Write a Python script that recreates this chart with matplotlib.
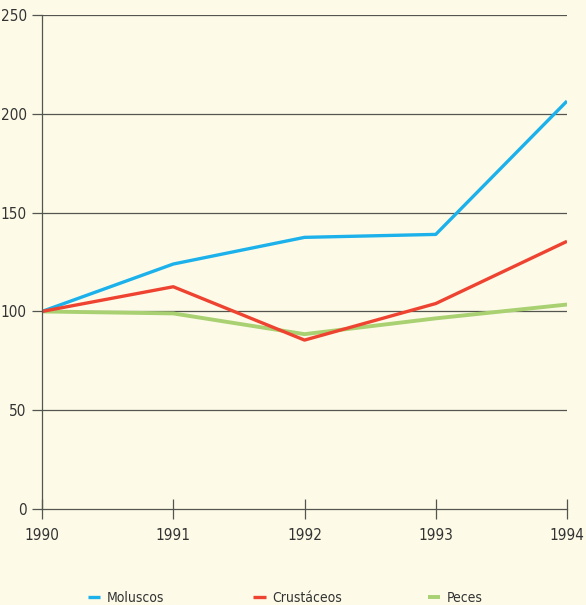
import matplotlib
matplotlib.use("Agg")
import matplotlib.pyplot as plt

years = [1990, 1991, 1992, 1993, 1994]
moluscos = [100, 124, 137.5, 139, 206.5]
crustaceos = [100, 112.5, 85.5, 104, 135.5]
peces = [100, 99, 88.5, 96.5, 103.5]
y_ticks = [0, 50, 100, 150, 200, 250]

bg = "#fdfbe8"
plt.rcParams['font.family'] = ['DejaVu Sans']
plt.rcParams['font.stretch'] = 'condensed'

fig = plt.figure(figsize=(5.86, 6.05), dpi=100, facecolor=bg)
ax = fig.add_axes([0.0717, 0.1587, 0.8959, 0.8163], facecolor=bg)

ax.plot(years, moluscos, color="#1cb1eb", lw=2.4, label="Moluscos", solid_capstyle="butt")
ax.plot(years, crustaceos, color="#ef4331", lw=2.4, label="Crustáceos", solid_capstyle="butt")
ax.plot(years, peces, color="#a9d172", lw=2.8, label="Peces", solid_capstyle="butt", zorder=1.5)

for v in y_ticks[1:]:
    ax.axhline(v, color="#555550", lw=0.9, zorder=1)

ax.set_xlim(1990, 1994)
ax.set_ylim(0, 250)
ax.set_xticks(years)
ax.set_yticks(y_ticks)
for s in ["top", "right"]:
    ax.spines[s].set_visible(False)
for s in ["left", "bottom"]:
    ax.spines[s].set_color("#555550")
    ax.spines[s].set_linewidth(0.9)
ax.tick_params(axis="x", direction="inout", length=14, width=0.9, color="#555550",
               labelsize=11, pad=7, labelcolor="#333333")
ax.tick_params(axis="y", direction="out", length=7, width=0.9, color="#555550",
               labelsize=11, pad=4, labelcolor="#333333")

# legend entries placed one by one under the plot
handles, labels = ax.get_legend_handles_labels()
for h, l, xc in zip(handles, labels, [0.150, 0.432, 0.730]):
    fig.legend([h], [l], loc="center left", bbox_to_anchor=(xc, 0.011), frameon=False,
               handlelength=0.9, handletextpad=0.45, fontsize=10, labelcolor="#333333",
               borderpad=0, borderaxespad=0)

fig.savefig("out.png", dpi=100, facecolor=bg)
